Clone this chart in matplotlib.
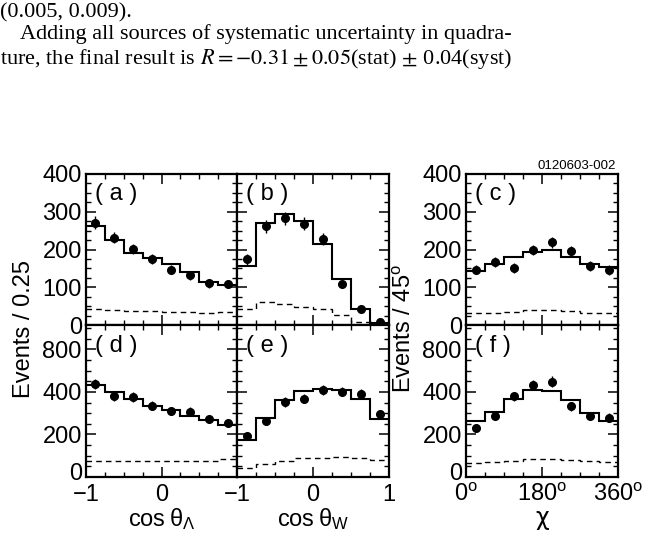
import numpy as np
import matplotlib
matplotlib.use("Agg")
import matplotlib.pyplot as plt
from matplotlib.ticker import MultipleLocator
from matplotlib.transforms import ScaledTranslation

plt.rcParams["font.family"] = ["Liberation Sans", "DejaVu Sans"]
plt.rcParams["mathtext.fontset"] = "custom"
plt.rcParams["mathtext.rm"] = "Liberation Sans"
plt.rcParams["mathtext.it"] = "Liberation Sans:italic"

# bin edges of the three variables
cos_edges = np.linspace(-1, 1, 9)
chi_edges = np.linspace(0, 360, 9)

# (a) cos theta_Lambda, sample 1
a_fit = [262, 225, 191, 177, 161, 141, 113, 107]
a_data = [271, 231, 201, 175, 146, 132, 110, 109]
a_err = [17, 15, 14, 13, 12, 12, 11, 11]
a_bkg = [42, 40, 37, 36, 35, 35, 32, 35]

# (b) cos theta_W, sample 1
b_fit = [155, 269, 294, 275, 214, 121, 43, 5]
b_data = [174, 262, 283, 268, 228, 109, 42, 7]
b_err = [14, 17, 17, 17, 15, 11, 7, 3]
b_bkg = [43, 61, 55, 49, 42, 26, 9, 3]

# (c) chi, sample 1
c_fit = [144, 162, 181, 194, 199, 181, 162, 153]
c_data = [147, 166, 150, 199, 219, 195, 157, 146]
c_err = [13, 13, 13, 14, 15, 14, 13, 13]
c_bkg = [31, 32, 35, 39, 41, 37, 33, 32]

# (d) cos theta_Lambda, sample 2
d_fit = [431, 399, 365, 336, 316, 289, 269, 246]
d_data = [439, 379, 376, 336, 310, 308, 274, 253]
d_err = [24, 23, 23, 21, 20, 20, 19, 18]
d_bkg = [76, 76, 75, 75, 74, 73, 73, 84]

# (e) cos theta_W, sample 2
e_fit = [175, 279, 363, 404, 413, 407, 368, 274]
e_data = [191, 263, 352, 368, 410, 402, 391, 297]
e_err = [16, 19, 22, 22, 24, 23, 23, 20]
e_bkg = [42, 62, 75, 90, 90, 93, 90, 81]

# (f) chi, sample 2
f_fit = [263, 305, 365, 410, 404, 360, 302, 263]
f_data = [230, 286, 379, 434, 449, 332, 286, 279]
f_err = [19, 20, 23, 24, 25, 22, 20, 20]
f_bkg = [67, 70, 74, 86, 86, 82, 73, 70]

MINUS = "\u2212"
cos_ticks = [-1, 0, 1]
chi_ticks = [0, 180, 360]
chi_labels = ["0$^{\\rm o}$", "180$^{\\rm o}$", "360$^{\\rm o}$"]
top_yticks = [0, 100, 200, 300, 400]
bot_yticks = [0, 200, 400, 600]
bot_ylabels = ["0", "200", "400", "800"]

fs = 17
fig = plt.figure(figsize=(6.59, 5.37), dpi=100)
W, H = 659.0, 537.0


def make_ax(x0, x1, y0, y1):
    return fig.add_axes([x0 / W, 1 - y1 / H, (x1 - x0) / W, (y1 - y0) / H])


def draw(ax, edges, fit, data, err, bkg, letter):
    centers = (edges[:-1] + edges[1:]) / 2
    ax.stairs(fit, edges, color="black", lw=1.5, baseline=None)
    ax.stairs(bkg, edges, color="black", lw=1.0, ls=(0, (4, 3)), baseline=None)
    ax.errorbar(centers, data, yerr=err, fmt="o", color="black", ms=5.5,
                elinewidth=1.0, capsize=0)
    ax.set_xlim(edges[0], edges[-1])
    ax.text(0.06, 0.865, "( %s )" % letter, transform=ax.transAxes,
            fontsize=fs, va="center", ha="left")
    for s in ax.spines.values():
        s.set_linewidth(1.6)
    ax.tick_params(which="both", direction="in", top=True, right=True,
                   labelsize=fs, pad=3)
    ax.tick_params(which="major", length=7, width=1.1)
    ax.tick_params(which="minor", length=3.5, width=1.0)
    ax.tick_params(axis="x", pad=5)


ax_a = make_ax(86, 237, 174, 325)
ax_b = make_ax(237, 389, 174, 325)
ax_c = make_ax(466, 618, 174, 325)
ax_d = make_ax(86, 237, 325, 477)
ax_e = make_ax(237, 389, 325, 477)
ax_f = make_ax(466, 618, 325, 477)

draw(ax_a, cos_edges, a_fit, a_data, a_err, a_bkg, "a")
draw(ax_b, cos_edges, b_fit, b_data, b_err, b_bkg, "b")
draw(ax_c, chi_edges, c_fit, c_data, c_err, c_bkg, "c")
draw(ax_d, cos_edges, d_fit, d_data, d_err, d_bkg, "d")
draw(ax_e, cos_edges, e_fit, e_data, e_err, e_bkg, "e")
draw(ax_f, chi_edges, f_fit, f_data, f_err, f_bkg, "f")

for ax in (ax_a, ax_b, ax_c):
    ax.set_ylim(0, 400)
    ax.set_yticks(top_yticks)
    ax.yaxis.set_minor_locator(MultipleLocator(25))
for ax in (ax_d, ax_e, ax_f):
    ax.set_ylim(0, 715)
    ax.set_yticks(bot_yticks)
    ax.yaxis.set_minor_locator(MultipleLocator(50))

for ax in (ax_a, ax_b, ax_d, ax_e):
    ax.set_xticks(cos_ticks)
    ax.xaxis.set_minor_locator(MultipleLocator(0.25))
for ax in (ax_c, ax_f):
    ax.set_xticks(chi_ticks)
    ax.xaxis.set_minor_locator(MultipleLocator(45))

for ax in (ax_a, ax_b, ax_c):
    ax.set_xticklabels([])
for ax in (ax_b, ax_e):
    ax.set_yticklabels([])
for ax in (ax_a, ax_c):
    ax.set_yticklabels([str(v) for v in top_yticks])
for ax in (ax_d, ax_f):
    ax.set_yticklabels(bot_ylabels)
    # lower "0" sits a little above the axis in the original
    lab0 = ax.get_yticklabels()[0]
    lab0.set_transform(lab0.get_transform() +
                       ScaledTranslation(0, 5 / 100, fig.dpi_scale_trans))

ax_d.set_xticklabels([MINUS + "1", "0", ""])
ax_e.set_xticklabels([MINUS + "1", "0", "1"])
ax_f.set_xticklabels(chi_labels)

ax_d.set_xlabel("cos\u2009\u03b8$_{\\Lambda}$", fontsize=fs, labelpad=0)
ax_e.set_xlabel("cos\u2009\u03b8$_{\\rm W}$", fontsize=fs, labelpad=0)
ax_f.set_xlabel("\u03c7", fontsize=fs, labelpad=0, family="DejaVu Sans")

fig.text(24 / W, 1 - 329 / H, "Events / 0.25", rotation=90, fontsize=fs,
         ha="center", va="center")
fig.text(405 / W, 1 - 329 / H, "Events / 45$^{\\rm o}$", rotation=90,
         fontsize=fs, ha="center", va="center")
fig.text(616 / W, 1 - 166 / H, "0120603-002", fontsize=9.5, ha="right",
         va="center")

# text of the paper above the figure
tfs = 16
fig.text(0, 1 - 17 / H, "(0.005, 0.009).", family="Liberation Serif",
         fontsize=tfs, va="baseline")
fig.text(20 / W, 1 - 39 / H,
         "Adding all sources of systematic uncertainty in quadra-",
         family="Liberation Serif", fontsize=tfs, va="baseline")
fig.text(0, 1 - 64 / H,
         "ture, the final result is $R = -0.31 \\pm 0.05$(stat)$\\,\\pm\\,$0.04(syst)",
         family="Liberation Serif", fontsize=tfs, va="baseline",
         math_fontfamily="stix")

fig.savefig("out.png", dpi=100)
